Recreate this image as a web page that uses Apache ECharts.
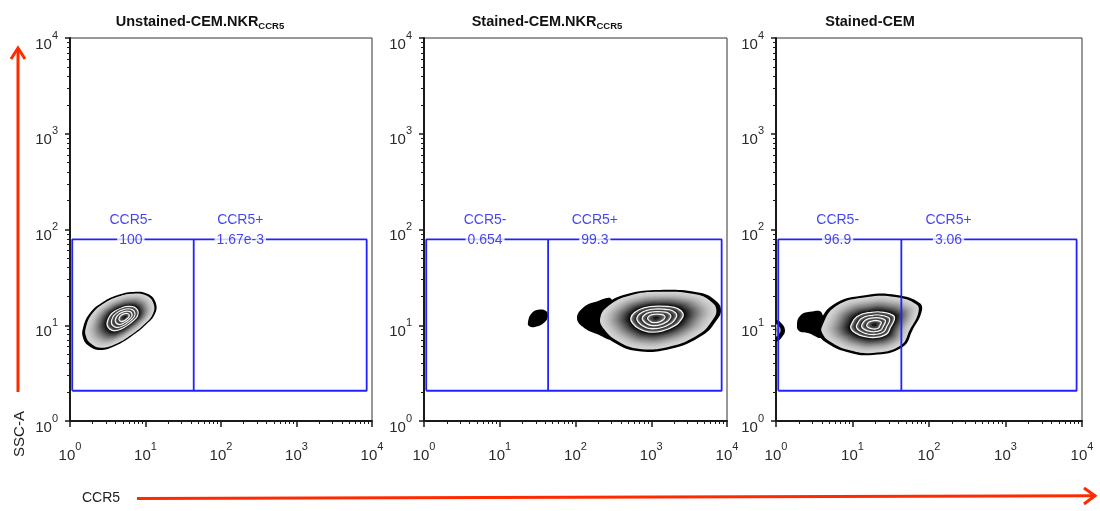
<!DOCTYPE html>
<html><head><meta charset="utf-8">
<script src="https://cdn.jsdelivr.net/npm/echarts@6/dist/echarts.min.js"></script>
<style>html,body{margin:0;padding:0;background:#fff}#c{width:1100px;height:511px}</style>
</head><body><div id="c"></div>
<script>
// ---------------- data ----------------
const panelTitles = ['Unstained-CEM.NKR', 'Stained-CEM.NKR', 'Stained-CEM'];
const panelTitleSubs = ['CCR5', 'CCR5', ''];
const gateNames = ['CCR5-', 'CCR5+'];
const gateNegPct = ['100', '0.654', '96.9'];
const gatePosPct = ['1.67e-3', '99.3', '3.06'];
const gateX = [1.07, 43.5, 8500];      // left, divider, right (CCR5)
const gateY = [2.07, 78.8];            // bottom, top (SSC-A)
const gateLabelX = [6.4, 180];
const tickValues = [1, 10, 100, 1000, 10000];
const tickExps = ['0', '1', '2', '3', '4'];
const minorMultipliers = [2, 3, 4, 5, 6, 7, 8, 9];
const xAxisName = 'CCR5';
const yAxisName = 'SSC-A';

// population outlines (CCR5, SSC-A)
const p1Main = [[1.49,9.4],[1.84,13.4],[2.73,17.5],[4.31,20.7],[6.81,22.3],[10.8,21.2],[13.7,17.1],[13.3,13.1],[10.1,10.1],[6.61,7.73],[3.94,6.08],[2.49,5.52],[1.78,6.08],[1.49,7.37]];
const p1MainCenter = [5.34, 12.2];
const p2Blob = [[23.6,10.8],[25.9,13.1],[32.0,14.5],[40.8,14.1],[43.4,12.5],[38.4,10.6],[29.2,9.6],[24.3,9.8]];
const p2BlobCenter = [32, 12];
const p2Tail = [[104.7,11.9],[125.7,15.2],[180.9,17.5],[303,18.4],[303,7.37],[192,8.12],[125.7,9.6]];
const p2TailCenter = [200, 12];
const p2Main = [[186.6,11.9],[245,16.3],[479,21.2],[1306,23.4],[4400,21.8],[7160,17.9],[8330,14.5],[7380,11.4],[4820,7.92],[1770,5.65],[649,5.39],[332,6.53],[211,8.93]];
const p2MainCenter = [1155, 11.9];
const p3Edge = [[0.8,11.6],[1.0,11.4],[1.16,10.6],[1.31,8.93],[1.2,7.55],[1.0,6.69],[0.8,6.6]];
const p3EdgeCenter = [0.95, 9.0];
const p3Tail = [[1.88,10.1],[2.06,12.5],[2.77,13.8],[3.98,13.4],[3.98,7.55],[2.61,8.31],[2.0,8.72]];
const p3TailCenter = [3, 10.5];
const p3Main = [[3.53,9.6],[5.53,16.3],[15.4,20.7],[37.8,20.7],[75.4,17.1],[80.1,13.8],[61.1,8.93],[45.3,5.93],[18.4,4.89],[8.43,5.26],[4.62,6.53],[3.64,7.92]];
const p3MainCenter = [19.5, 10.1];

const panelPops = [
  [{o: p1Main, c: p1MainCenter, kind: 'zebra'}],
  [{o: p2Blob, c: p2BlobCenter, kind: 'solid'}, {o: p2Tail, c: p2TailCenter, kind: 'solid'}, {o: p2Main, c: p2MainCenter, kind: 'zebra'}],
  [{o: p3Edge, c: p3EdgeCenter, kind: 'ring'}, {o: p3Tail, c: p3TailCenter, kind: 'solid'}, {o: p3Main, c: p3MainCenter, kind: 'zebra'}]
];

// ---------------- layout / style ----------------
const grids = [
  {left: 70, top: 38, width: 302, height: 383},
  {left: 424, top: 38, width: 303, height: 383},
  {left: 776, top: 38, width: 306, height: 383}
];
const titleCenters = [200, 547, 870];
const gateColor = '#2222ff';
const gateTextColor = '#1414f0';
const axisColor = '#1a1a1a';
const labelColor = '#2a2a2a';
const red = '#ff2a00';
const bands = [
  {t0: 0.93, t1: 0.45, g0: 212, g1: 8, steps: 20, pow: 1.6, white: false},
  {t0: 0.42, t1: 0.34, g0: 125, g1: 18, steps: 4, pow: 1, white: true},
  {t0: 0.32, t1: 0.25, g0: 120, g1: 18, steps: 4, pow: 1, white: true},
  {t0: 0.23, t1: 0.16, g0: 115, g1: 20, steps: 3, pow: 1, white: true},
  {t0: 0.14, t1: 0.05, g0: 100, g1: 25, steps: 3, pow: 1, white: true}
];

const minorExps = [];
for (let d = 0; d < 4; d++) minorMultipliers.forEach(m => minorExps.push(Math.log10(m * Math.pow(10, d))));

const labelFont = 'Liberation Sans, Arial, sans-serif';
const labelRich = {
  b: {fontSize: 15, color: labelColor, fontFamily: labelFont, padding: [7, 0, 0, 0]},
  s: {fontSize: 11, color: labelColor, fontFamily: labelFont, verticalAlign: 'top'}
};
function expLabel(v) {
  const k = tickValues.indexOf(Math.round(v));
  return k < 0 ? '' : '{b|10}{s|' + tickExps[k] + '}';
}

function renderPop(pop, api) {
  const pts = pop.o.map(p => api.coord(p));
  const c = api.coord(pop.c);
  const ring = t => pts.map(p => [c[0] + (p[0] - c[0]) * t, c[1] + (p[1] - c[1]) * t]);
  const children = [];
  const poly = (t, fill, stroke) => children.push({
    type: 'polygon', shape: {points: ring(t), smooth: 0.45},
    style: {fill: fill, stroke: stroke || null, lineWidth: stroke ? 1.3 : 0}
  });
  if (pop.kind === 'solid') {
    poly(1, '#000');
  } else if (pop.kind === 'ring') {
    poly(1, '#000'); poly(0.6, '#b5b5b5'); poly(0.3, '#8a8a8a');
  } else {
    poly(1, '#000');
    bands.forEach(b => {
      for (let k = 0; k < b.steps; k++) {
        const f = b.steps > 1 ? k / (b.steps - 1) : 0;
        const t = b.t0 + (b.t1 - b.t0) * f;
        const g = Math.round(b.g0 - (b.g0 - b.g1) * Math.pow(f, b.pow));
        poly(t, 'rgb(' + g + ',' + g + ',' + g + ')', (k === 0 && b.white) ? '#f4f4f4' : null);
      }
    });
  }
  return {type: 'group', children: children};
}

const xAxes = [], yAxes = [], series = [];
grids.forEach((g, i) => {
  xAxes.push({
    type: 'log', logBase: 10, min: 1, max: 10000, gridIndex: i, position: 'bottom',
    axisLine: {show: true, onZero: false, lineStyle: {color: axisColor, width: 2}},
    axisTick: {show: true, length: 6, lineStyle: {color: axisColor, width: 1.5}},
    axisLabel: {formatter: expLabel, rich: labelRich, margin: 20},
    splitLine: {show: false}
  });
  xAxes.push({
    type: 'value', min: 0, max: 4, gridIndex: i, position: 'bottom',
    axisLine: {show: false}, axisLabel: {show: false}, splitLine: {show: false},
    axisTick: {show: true, length: 3, customValues: minorExps, lineStyle: {color: axisColor, width: 1}}
  });
  yAxes.push({
    type: 'log', logBase: 10, min: 1, max: 10000, gridIndex: i, position: 'left',
    axisLine: {show: true, onZero: false, lineStyle: {color: axisColor, width: 2}},
    axisTick: {show: true, length: 5, lineStyle: {color: axisColor, width: 1.5}},
    axisLabel: {formatter: expLabel, rich: labelRich, margin: 12, padding: [6, 0, 0, 0]},
    splitLine: {show: false}
  });
  yAxes.push({
    type: 'value', min: 0, max: 4, gridIndex: i, position: 'left',
    axisLine: {show: false}, axisLabel: {show: false}, splitLine: {show: false},
    axisTick: {show: true, length: 3, customValues: minorExps, lineStyle: {color: axisColor, width: 1}}
  });
  const pops = panelPops[i];
  series.push({
    type: 'custom', xAxisIndex: 2 * i, yAxisIndex: 2 * i, clip: true, z: 1, silent: true,
    data: pops.map(p => p.c),
    renderItem: (params, api) => renderPop(pops[params.dataIndex], api)
  });
  series.push({
    type: 'line', xAxisIndex: 2 * i, yAxisIndex: 2 * i, symbol: 'none', silent: true, z: 3,
    lineStyle: {color: gateColor, width: 1.8},
    data: [[gateX[0], gateY[0]], [gateX[0], gateY[1]], [gateX[2], gateY[1]], [gateX[2], gateY[0]], [gateX[0], gateY[0]]]
  });
  series.push({
    type: 'line', xAxisIndex: 2 * i, yAxisIndex: 2 * i, symbol: 'none', silent: true, z: 3,
    lineStyle: {color: gateColor, width: 1.8},
    data: [[gateX[1], gateY[0]], [gateX[1], gateY[1]]]
  });
  const pct = [gateNegPct[i], gatePosPct[i]];
  series.push({
    type: 'scatter', xAxisIndex: 2 * i, yAxisIndex: 2 * i, symbolSize: 0, silent: true, z: 5,
    itemStyle: {color: 'rgba(0,0,0,0)'},
    data: gateLabelX.map((x, k) => ({value: [x, gateY[1]], name: gateNames[k]})),
    label: {
      show: true, position: 'inside', offset: [0, -11],
      formatter: p => '{n|' + gateNames[p.dataIndex] + '}\n{v|' + pct[p.dataIndex] + '}',
      rich: {
        n: {fontSize: 14, color: gateTextColor, fontFamily: labelFont, lineHeight: 23, align: 'center'},
        v: {fontSize: 14, color: gateTextColor, fontFamily: labelFont, lineHeight: 16, align: 'center', backgroundColor: '#fff', padding: [0, 2, 0, 2]}
      }
    }
  });
});

const graphics = [];
panelTitles.forEach((t, i) => {
  graphics.push({
    type: 'text', x: titleCenters[i], y: 22, silent: true,
    style: {
      text: panelTitleSubs[i] ? '{m|' + t + '}{s|' + panelTitleSubs[i] + '}' : '{m|' + t + '}',
      align: 'center', verticalAlign: 'middle',
      rich: {
        m: {fontSize: 14.5, fontWeight: 'bold', fill: '#111', fontFamily: 'Liberation Sans Narrow, Liberation Sans, sans-serif'},
        s: {fontSize: 9.5, fontWeight: 'bold', fill: '#111', fontFamily: 'Liberation Sans Narrow, Liberation Sans, sans-serif', padding: [9, 0, 0, 0]}
      }
    }
  });
});
// red axis arrows and names
graphics.push({type: 'line', silent: true, shape: {x1: 18, y1: 392, x2: 18, y2: 48}, style: {stroke: red, lineWidth: 3}});
graphics.push({type: 'polyline', silent: true, shape: {points: [[11, 59], [18, 48], [25, 59]]}, style: {stroke: red, lineWidth: 3, fill: null}});
graphics.push({type: 'line', silent: true, shape: {x1: 137, y1: 498.5, x2: 1094, y2: 495.8}, style: {stroke: red, lineWidth: 3}});
graphics.push({type: 'polyline', silent: true, shape: {points: [[1084, 488], [1095, 495.8], [1084, 504]]}, style: {stroke: red, lineWidth: 3, fill: null}});
graphics.push({type: 'text', silent: true, x: 20, y: 434, rotation: Math.PI / 2,
  style: {text: yAxisName, fontSize: 15, fill: '#222', fontFamily: labelFont, align: 'center', verticalAlign: 'middle'}});
graphics.push({type: 'text', silent: true, x: 101, y: 498,
  style: {text: xAxisName, fontSize: 14, fill: '#222', fontFamily: labelFont, align: 'center', verticalAlign: 'middle'}});

const chart = echarts.init(document.getElementById('c'));
chart.setOption({
  animation: false,
  backgroundColor: '#fff',
  grid: grids.map(g => Object.assign({show: true, borderColor: '#333', borderWidth: 1, backgroundColor: 'rgba(0,0,0,0)', containLabel: false}, g)),
  xAxis: xAxes,
  yAxis: yAxes,
  series: series,
  graphic: graphics
});
</script></body></html>
